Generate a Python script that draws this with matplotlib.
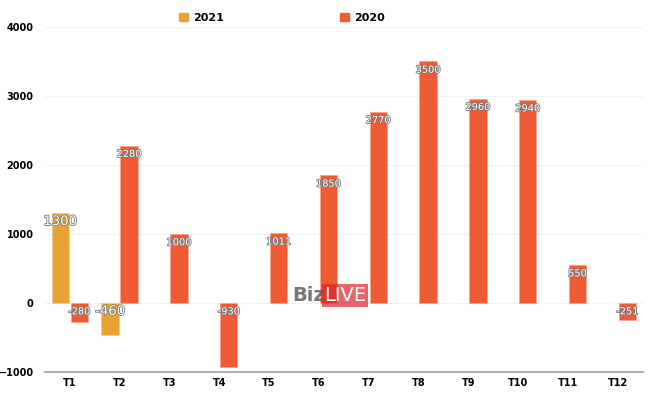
import numpy as np
import matplotlib.pyplot as plt
import matplotlib.patheffects as pe
from matplotlib.patches import Patch

months = ['T1', 'T2', 'T3', 'T4', 'T5', 'T6', 'T7', 'T8', 'T9', 'T10', 'T11', 'T12']
v2021 = [1300, -460, None, None, None, None, None, None, None, None, None, None]
v2020 = [-280, 2280, 1000, -930, 1011, 1850, 2770, 3500, 2960, 2940, 550, -251]

c2021 = '#E8A233'
c2020 = '#EF5B34'

fig = plt.figure(figsize=(6.5, 3.95), dpi=100)
ax = fig.add_axes([0.069, 0.058, 0.92, 0.874])

x = np.arange(len(months))
w = 0.35
off = 0.19

y21 = [np.nan if v is None else v for v in v2021]
ax.bar(x - off, y21, w, color=c2021, edgecolor='#f6c9a0', linewidth=0.5, zorder=3)
ax.bar(x + off, v2020, w, color=c2020, edgecolor='#f9a58c', linewidth=0.5, zorder=3)

shadow = [pe.withStroke(linewidth=1.2, foreground='#7a7a7a')]

def label(xs, vals, size):
    for xi, v in zip(xs, vals):
        if v is None:
            continue
        ax.annotate(str(v), (xi, max(v, 0)), xytext=(0, -6), textcoords='offset points',
                    ha='center', va='center', color='white', fontsize=size,
                    path_effects=shadow, zorder=5)

label(x - off, v2021, 9.5)
label(x + off, v2020, 7)

ax.set_xlim(-0.5, len(months) - 0.5)
ax.set_ylim(-1000, 4000)
ax.set_yticks([-1000, 0, 1000, 2000, 3000, 4000])
ax.set_xticks(x)
ax.set_xticklabels(months)
ax.grid(axis='y', color='#f2f2f2', linewidth=0.8, zorder=0)
ax.tick_params(length=0, labelsize=7)
for t in ax.get_xticklabels() + ax.get_yticklabels():
    t.set_fontweight('bold')
ax.tick_params(axis='y', pad=8)
ax.tick_params(axis='x', pad=4)
for s in ['top', 'right', 'left']:
    ax.spines[s].set_visible(False)
ax.spines['bottom'].set_color('#b0b0b0')
ax.spines['bottom'].set_linewidth(1.5)

handles = [Patch(color=c2021, label='2021'), Patch(color=c2020, label='2020')]
fig.legend(handles=handles, loc='center', bbox_to_anchor=(0.434, 0.955), ncol=2,
           frameon=False, handlelength=0.8, handleheight=0.8, handletextpad=0.5,
           columnspacing=10.4, prop={'weight': 'bold', 'size': 8})

# watermark
fig.text(0.449, 0.251, 'Biz', color='#5f5f5f', fontsize=14, ha='left', va='center',
         fontweight='bold', alpha=0.85)
fig.text(0.499, 0.251, 'LIVE', color='white', fontsize=14, ha='left', va='center',
         bbox=dict(boxstyle='square,pad=0.1', facecolor='#d9262c', edgecolor='none', alpha=0.7))

plt.savefig('out.png', dpi=100)
